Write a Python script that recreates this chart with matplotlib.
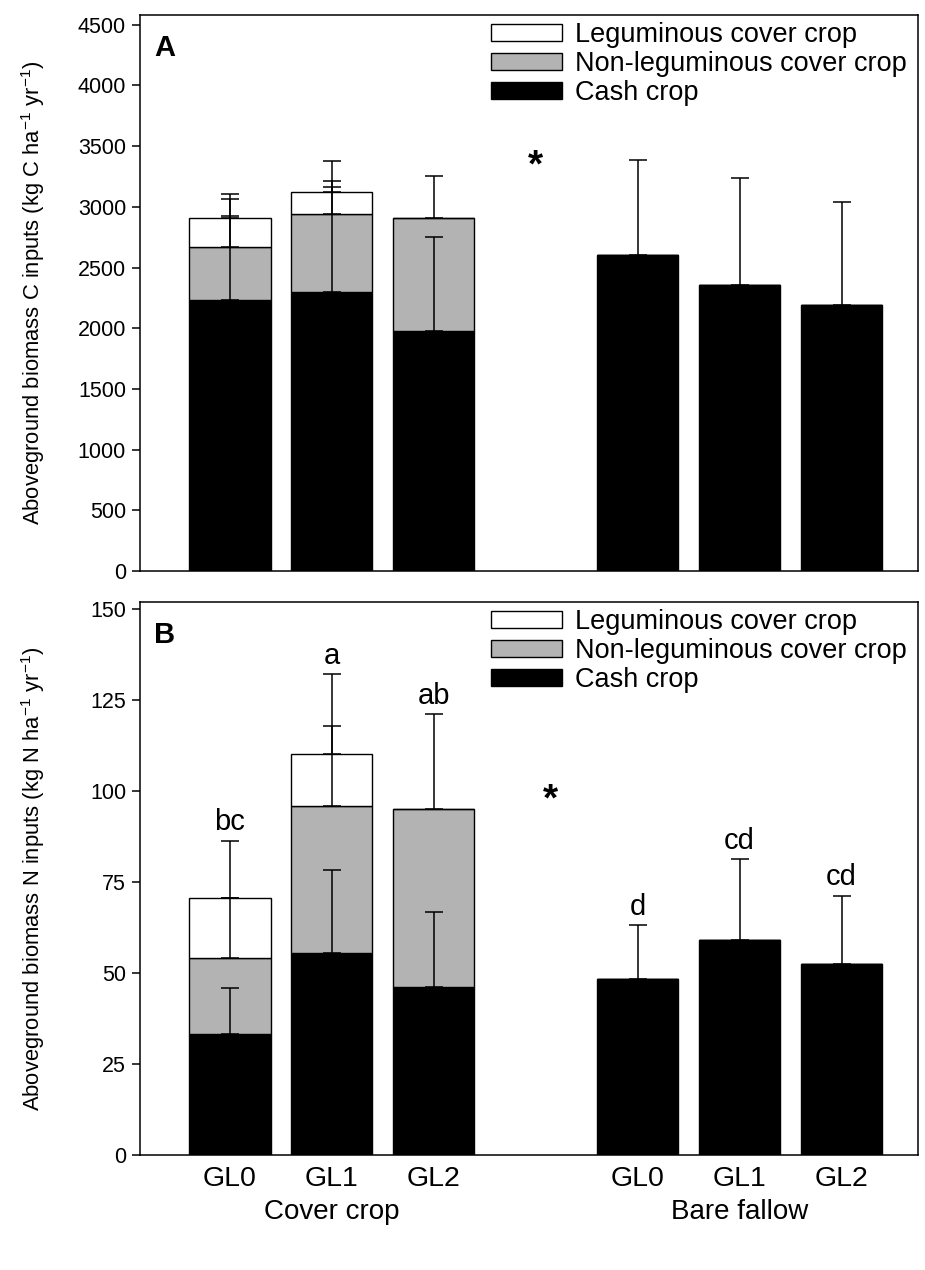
import numpy as np
import matplotlib
matplotlib.use("Agg")
import matplotlib.pyplot as plt
from matplotlib.patches import Patch
import matplotlib.transforms as mtransforms

plt.rcParams["font.family"] = ["Liberation Sans", "DejaVu Sans"]
plt.rcParams["mathtext.fontset"] = "custom"
plt.rcParams["mathtext.rm"] = "Liberation Sans"
plt.rcParams["mathtext.it"] = "Liberation Sans"

# bar positions: cover crop GL0-2, then bare fallow GL0-2
xpos = [1, 2, 3, 5, 6, 7]
tick_labels = ["GL0", "GL1", "GL2", "GL0", "GL1", "GL2"]
groups = ["Cover crop", "Bare fallow"]
group_pos = [2, 6]

# Panel A: C inputs (kg C/ha/yr)
cash_c = [2230, 2300, 1975, 2600, 2355, 2190]
nonleg_c = [435, 640, 930, 0, 0, 0]
leg_c = [245, 180, 0, 0, 0, 0]
cash_c_err = [877, 1076, 773, 785, 880, 850]
nonleg_c_err = [400, 270, 345, 0, 0, 0]
leg_c_err = [15, 45, 0, 0, 0, 0]

# Panel B: N inputs (kg N/ha/yr)
cash_n = [33.3, 55.6, 46.2, 48.3, 59.0, 52.5]
nonleg_n = [20.9, 40.2, 48.9, 0, 0, 0]
leg_n = [16.4, 14.3, 0, 0, 0, 0]
cash_n_err = [12.7, 22.6, 20.6, 15.0, 22.3, 18.8]
nonleg_n_err = [16.5, 22.0, 26.2, 0, 0, 0]
leg_n_err = [15.8, 22.0, 0, 0, 0, 0]
letters_n = ["bc", "a", "ab", "d", "cd", "cd"]

gray = "#b3b3b3"
width = 0.8


def draw_panel(ax, cash, nonleg, leg, e_cash, e_non, e_leg):
    cash = np.array(cash, float)
    nonleg = np.array(nonleg, float)
    leg = np.array(leg, float)
    ax.bar(xpos, cash, width, color="black", edgecolor="black", lw=1, zorder=2)
    ax.bar(xpos, nonleg, width, bottom=cash, color=gray, edgecolor="black", lw=1, zorder=2)
    ax.bar(xpos, leg, width, bottom=cash + nonleg, color="white", edgecolor="black", lw=1, zorder=2)
    tops = [cash, cash + nonleg, cash + nonleg + leg]
    errs = [e_cash, e_non, e_leg]
    for top, err, seg in zip(tops, errs, [cash, nonleg, leg]):
        for x, t, e, s in zip(xpos, top, err, seg):
            if s > 0 and e > 0:
                ax.errorbar(x, t, yerr=[[0], [e]], fmt="none", ecolor="black",
                            elinewidth=1.1, capsize=6.5, capthick=1.1, zorder=3)
    ax.set_xlim(0.12, 7.75)
    for s in ax.spines.values():
        s.set_linewidth(1.1)
    ax.tick_params(axis="y", direction="out", length=6, width=1.1, labelsize=15.5, pad=4)
    ax.tick_params(axis="x", length=0)


fig = plt.figure(figsize=(9.25, 12.7), dpi=100)
axA = fig.add_axes([140 / 925, 699 / 1270, 778 / 925, 556 / 1270])
axB = fig.add_axes([140 / 925, 115 / 1270, 778 / 925, 553 / 1270])

draw_panel(axA, cash_c, nonleg_c, leg_c, cash_c_err, nonleg_c_err, leg_c_err)
axA.set_ylim(0, 4580)
axA.set_yticks(np.arange(0, 4501, 500))
axA.set_xticks([])
axA.set_ylabel("Aboveground biomass C inputs (kg C ha$^{-1}$ yr$^{-1}$)", fontsize=15.8)
axA.yaxis.set_label_coords(-0.12, 0.5)
axA.text(4.0, 3330, "*", fontsize=28, fontweight="bold", ha="center", va="center")

draw_panel(axB, cash_n, nonleg_n, leg_n, cash_n_err, nonleg_n_err, leg_n_err)
axB.set_ylim(0, 152)
axB.set_yticks(np.arange(0, 151, 25))
axB.set_xticks(xpos)
axB.set_xticklabels(tick_labels, fontsize=20.5)
axB.tick_params(axis="x", pad=8)
axB.set_ylabel("Aboveground biomass N inputs (kg N ha$^{-1}$ yr$^{-1}$)", fontsize=15.8)
axB.yaxis.set_label_coords(-0.12, 0.5)
axB.text(4.15, 97.5, "*", fontsize=28, fontweight="bold", ha="center", va="center")

totals_n = np.array(cash_n) + np.array(nonleg_n) + np.array(leg_n)
caps_n = []
for i in range(6):
    c = [cash_n[i] + cash_n_err[i],
         cash_n[i] + nonleg_n[i] + nonleg_n_err[i],
         totals_n[i] + leg_n_err[i]]
    caps_n.append(max(c))
for x, c, lab in zip(xpos, caps_n, letters_n):
    axB.annotate(lab, (x, c), xytext=(0, 3), textcoords="offset points",
                 ha="center", va="bottom", fontsize=21)

trans = mtransforms.blended_transform_factory(axB.transData, axB.transAxes)
for g, p in zip(groups, group_pos):
    axB.text(p, -0.103, g, transform=trans, ha="center", va="center", fontsize=20)

for ax, lab in [(axA, "A"), (axB, "B")]:
    ax.text(0.018, 0.965, lab, transform=ax.transAxes, fontsize=21,
            fontweight="bold", ha="left", va="top")
    handles = [Patch(facecolor="white", edgecolor="black", lw=1),
               Patch(facecolor=gray, edgecolor="black", lw=1),
               Patch(facecolor="black", edgecolor="black", lw=1)]
    ax.legend(handles, ["Leguminous cover crop", "Non-leguminous cover crop", "Cash crop"],
              loc="upper right", bbox_to_anchor=(1.007, 1.016), frameon=False,
              fontsize=19.5, handlelength=2.6, handleheight=0.6, handletextpad=0.5,
              labelspacing=0.1, borderaxespad=0.2)

fig.savefig("out.png", dpi=100)
